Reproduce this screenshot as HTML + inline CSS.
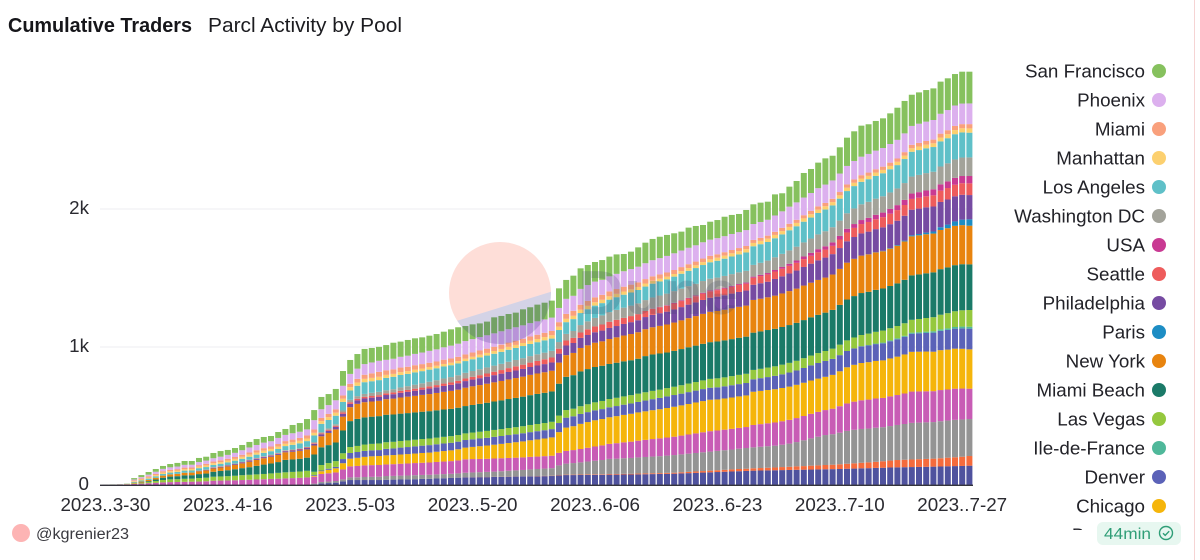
<!DOCTYPE html>
<html lang="en">
<head>
<meta charset="utf-8">
<title>Cumulative Traders - Parcl Activity by Pool</title>
<style>
html,body{margin:0;padding:0;background:#fff;width:1200px;height:560px;overflow:hidden}
svg{display:block;font-family:"Liberation Sans",sans-serif}
</style>
</head>
<body>
<svg id="chart" xmlns="http://www.w3.org/2000/svg" width="1200" height="560" viewBox="0 0 1200 560">
  <defs>
    <clipPath id="logo-circle"><circle cx="500" cy="293" r="51"/></clipPath>
    <clipPath id="legend-clip"><rect x="1000" y="55" width="190" height="475"/></clipPath>
  </defs>
  <rect width="1200" height="560" fill="#fff"/>
  <text x="8" y="32" font-size="20" font-weight="700" fill="#16161a" textLength="184" lengthAdjust="spacingAndGlyphs">Cumulative Traders</text>
  <text x="208" y="32" font-size="20" fill="#1c1c20" textLength="194" lengthAdjust="spacingAndGlyphs">Parcl Activity by Pool</text>
  <g id="grid"></g>
  <g id="bars"></g>
  <rect x="100" y="484.6" width="873" height="1.4" fill="#34343c"/>
  <g id="xticks"></g>
  <g id="yticks"></g>
  <g id="legend" clip-path="url(#legend-clip)"></g>
  <g>
    <g clip-path="url(#logo-circle)">
      <polygon points="440,240 560,240 560,289 440,326" fill="#f9593a" opacity="0.2"/>
      <polygon points="440,326 560,289 560,350 440,350" fill="#2a2280" opacity="0.2"/>
    </g>
    <text x="578" y="314" font-size="62" font-weight="700" fill="#3a4468" opacity="0.2" textLength="160" lengthAdjust="spacingAndGlyphs">Dune</text>
  </g>
  <circle cx="21" cy="533" r="9" fill="#fdb4b4"/>
  <text x="36" y="539" font-size="15.5" fill="#3a3a40" textLength="93" lengthAdjust="spacingAndGlyphs">@kgrenier23</text>
  <rect x="1097" y="522" width="84" height="23" rx="6" fill="#e7f7f0"/>
  <text x="1104" y="539" font-size="16" fill="#2f9e77" textLength="47" lengthAdjust="spacingAndGlyphs">44min</text>
  <g fill="none" stroke="#2f9e77" stroke-width="1.4">
    <circle cx="1166" cy="533" r="6.5"/>
    <path d="M1163 533.2l2.2 2.2 4-4.2"/>
  </g>
  <rect x="1194" y="0" width="1" height="560" fill="#f6d4d4"/>
</svg>
<script>
// Value per bar, March 30 onward (one per day, 121 bars).
const seriesIndigo = [0,0,0,0,0,0,0,0,0,0,0,0,0,0,0,0,0,0,0,0,0,0,0,0,0,0,0,0,0,5,
12,14,17,26,36,36,36,36,36,38,39,40,41,42,44,45,47,49,51,53,56,56,57,57,58,59,60,61,62,63,
63,64,65,69,72,72,73,73,74,74,75,75,76,76,77,78,79,80,81,82,84,86,88,90,92,94,96,98,100,102,
104,105,106,107,108,109,110,111,112,113,114,115,116,118,119,121,122,124,125,127,128,129,130,131,132,133,134,136,137,138,140];
const seriesCoral = [0,0,0,0,0,0,0,0,0,0,0,0,0,0,0,0,0,0,0,0,0,0,0,0,0,0,0,0,0,0,
0,0,0,0,0,0,0,0,0,0,0,0,0,0,0,0,0,0,0,0,1,1,1,1,1,1,1,1,1,1,
2,2,2,3,3,3,3,4,4,4,5,5,5,5,6,6,6,6,7,7,8,9,10,11,12,13,14,15,16,16,
17,18,19,20,22,23,25,26,28,29,31,32,34,36,38,40,42,44,47,50,53,54,55,56,57,58,60,62,64,67,70];
const seriesGray = [0,0,0,0,0,0,0,0,0,0,0,0,0,0,0,0,0,0,0,0,0,0,0,0,0,0,0,0,0,5,
10,11,12,15,19,20,22,23,24,27,27,28,28,29,29,29,30,30,30,31,32,34,35,37,38,40,42,44,46,49,
51,53,55,70,80,84,88,93,98,103,109,111,113,115,117,119,121,123,125,128,130,132,134,136,138,140,142,144,147,150,
152,154,156,158,162,168,176,187,198,208,217,221,229,238,243,245,245,247,247,250,254,259,265,265,265,265,268,269,271,270,268];
const seriesBrooklyn = [1,2,3,4,8,10,13,16,19,21,22,23,24,25,27,31,32,33,34,36,38,40,42,44,46,48,50,52,55,50,
58,60,62,72,80,82,84,85,85,84,85,86,87,88,88,89,90,91,92,94,97,97,96,95,95,94,93,92,91,91,
90,90,90,91,92,94,97,100,103,106,109,112,115,118,121,124,127,129,131,133,136,139,142,145,148,148,149,150,151,152,
162,164,166,168,170,172,174,176,178,180,181,185,192,199,204,208,210,212,212,215,217,221,227,226,225,224,226,225,226,224,220];
const seriesChicago = [0,0,0,0,0,0,0,0,0,0,0,0,0,0,0,0,0,0,0,0,0,0,0,0,0,0,0,0,0,5,
20,25,30,45,56,59,62,64,65,66,66,67,68,69,71,72,74,76,78,81,85,88,92,96,100,104,108,112,116,120,
124,128,133,150,169,173,182,186,190,191,193,196,199,202,205,207,209,211,214,217,219,221,224,226,228,225,226,227,228,229,
241,241,241,241,241,241,241,241,241,241,241,245,253,262,267,270,271,272,272,275,278,283,288,288,288,286,289,289,290,288,285];
const seriesDenver = [0,0,0,0,0,0,0,0,0,0,0,0,0,0,0,0,0,0,0,0,0,0,0,0,0,0,0,0,0,6,
5,8,10,30,41,42,43,43,43,47,48,50,51,52,53,54,54,55,55,55,55,55,56,56,57,57,58,58,59,59,
60,60,60,66,72,72,72,72,72,72,72,73,74,75,76,78,80,82,84,85,85,86,86,87,87,88,88,89,89,90,
90,92,94,97,99,102,104,107,110,113,115,116,117,118,119,120,121,122,124,125,126,128,131,133,135,138,140,143,145,148,150];
const seriesIleDeFrance = [0,0,0,0,0,0,0,0,0,0,0,0,0,0,0,0,0,0,0,0,0,0,0,0,0,0,0,0,0,0,
0,0,0,0,0,0,0,0,0,0,0,0,0,0,0,0,0,0,0,0,0,0,0,0,0,0,0,0,0,0,
0,0,0,0,0,0,0,0,0,0,0,0,0,0,0,0,0,0,0,0,0,0,0,0,0,0,0,0,0,0,
0,0,0,0,0,0,0,0,0,0,0,0,0,0,0,2,3,4,5,6,7,7,8,8,9,10,11,11,12,13,14];
const seriesLasVegas = [0,0,0,1,4,6,9,13,17,20,20,22,22,25,26,29,30,31,33,35,36,37,38,40,42,44,45,46,48,25,
40,41,42,42,43,44,46,47,48,48,48,48,48,48,48,48,48,48,48,48,48,49,49,50,50,50,51,51,51,52,
52,52,53,54,55,55,56,57,58,59,60,60,60,60,60,60,60,60,60,60,61,62,62,63,64,65,65,66,67,67,
68,68,69,69,70,70,70,71,71,72,72,74,76,77,79,81,83,85,87,88,89,91,93,96,99,102,106,110,114,118,121];
const seriesMiamiBeach = [0,0,0,0,0,2,6,11,17,20,22,25,25,29,30,36,40,43,47,51,55,62,68,72,78,90,90,92,95,125,
128,130,135,165,188,196,197,197,198,199,198,198,198,198,198,198,198,198,198,198,198,200,202,204,206,208,210,212,214,216,
218,219,220,231,241,243,252,255,256,255,254,254,254,253,253,262,264,262,258,260,262,263,264,265,266,267,268,268,269,269,
270,271,272,272,273,274,275,276,277,277,278,281,288,296,300,304,303,304,305,306,309,315,322,323,324,325,330,332,334,334,331];
const seriesNewYork = [0,0,0,0,5,7,9,12,15,16,17,19,19,21,22,24,25,28,31,35,40,43,46,49,52,55,56,58,60,65,
80,88,95,100,101,109,110,110,111,113,115,117,119,120,122,124,126,128,130,131,133,135,136,138,139,141,142,144,145,147,
148,149,150,153,157,161,170,172,176,177,181,184,187,190,192,195,197,200,203,205,208,211,214,217,220,221,222,223,224,225,
237,237,237,240,243,246,248,250,251,253,254,256,261,267,270,271,271,271,270,271,273,278,283,283,283,281,284,284,285,283,280];
const seriesParis = [0,0,0,0,0,0,0,0,0,0,0,0,0,0,0,0,0,0,0,0,0,0,0,0,0,0,0,0,0,0,
0,0,0,0,0,0,0,0,0,0,0,0,0,0,0,0,0,0,0,0,0,0,0,0,0,0,0,0,0,0,
0,0,0,0,0,0,0,0,0,0,0,0,0,0,0,0,0,0,0,0,0,0,0,0,0,0,0,0,0,0,
0,0,0,0,0,0,0,0,0,0,0,0,0,0,0,0,1,2,3,4,5,6,8,10,12,15,20,26,32,40,46];
const seriesPhiladelphia = [0,0,0,0,0,0,0,0,0,0,0,0,0,2,3,5,5,6,6,7,8,8,8,8,8,8,9,9,10,12,
15,16,18,21,24,25,27,28,29,30,32,34,35,37,38,40,41,43,44,46,48,49,50,51,52,53,54,55,56,57,
58,59,60,65,70,72,73,75,76,78,80,82,84,86,87,88,90,92,93,95,96,98,99,101,102,104,105,107,108,109,
110,112,113,121,124,128,131,135,138,142,145,148,151,155,158,161,164,167,170,173,176,180,185,184,183,181,183,182,182,180,176];
const seriesSeattle = [0,0,0,0,0,0,0,0,0,0,0,0,0,1,2,2,2,2,2,2,3,3,3,3,3,3,3,4,4,5,
6,7,8,10,12,12,12,12,12,12,13,14,14,15,15,16,16,17,17,18,19,20,22,23,25,26,28,30,31,32,
33,35,36,36,36,37,39,41,42,44,45,45,44,44,44,44,43,43,43,43,44,44,45,46,47,47,48,49,50,50,
51,52,53,54,55,55,56,57,57,58,58,60,62,64,66,68,70,72,74,76,77,78,78,79,80,81,82,83,84,84,85];
const seriesUSA = [0,0,0,0,0,0,0,0,0,0,0,0,0,0,0,0,0,0,0,0,0,0,0,0,0,0,0,0,0,0,
0,0,0,0,0,0,0,0,0,0,0,0,0,0,0,0,0,0,0,0,0,0,0,0,0,0,0,0,0,0,
0,0,0,0,0,0,0,0,0,0,0,0,0,0,0,0,2,3,4,5,5,5,5,6,6,6,7,7,7,8,
8,9,10,11,13,15,17,19,21,23,24,25,26,27,28,29,30,32,33,35,36,37,39,40,42,44,46,48,50,52,53];
const seriesWashingtonDC = [0,0,0,0,0,0,0,0,0,0,0,0,0,2,2,2,2,2,3,3,3,3,3,4,4,4,5,5,5,8,
9,10,11,14,17,19,21,23,24,22,23,25,27,29,31,33,35,37,39,40,41,42,43,44,44,45,46,46,47,47,
48,48,48,48,48,50,54,58,62,66,70,72,74,76,78,79,81,82,84,85,85,85,85,85,85,85,85,85,85,85,
85,87,90,92,95,97,100,102,104,107,109,110,111,112,113,114,116,117,118,119,121,122,123,125,126,127,129,131,133,134,135];
const seriesLosAngeles = [0,0,0,0,6,8,9,11,12,13,14,15,15,17,18,17,18,19,20,21,22,24,25,25,28,30,33,36,41,48,
60,61,62,62,68,75,85,84,85,90,90,90,89,89,88,88,87,87,86,86,85,85,86,86,86,87,87,87,88,88,
88,89,89,87,85,86,87,88,89,89,90,92,94,95,97,98,100,102,103,105,108,111,114,116,119,122,125,128,130,133,
135,135,135,138,141,146,148,150,152,155,157,158,159,161,162,163,164,165,167,168,169,174,180,180,180,179,182,182,183,182,179];
const seriesManhattan = [0,0,0,1,5,7,8,9,10,10,10,11,11,11,12,12,12,13,13,14,15,15,16,16,17,17,18,18,19,19,
20,21,22,23,24,24,24,24,24,22,21,21,20,20,19,19,18,18,18,17,17,18,19,19,20,21,21,22,22,23,
23,24,24,24,24,24,24,24,24,24,24,24,23,23,22,22,21,20,20,19,19,20,20,21,21,22,22,23,23,24,
24,24,24,24,24,24,24,24,24,24,24,24,24,24,24,24,24,24,24,24,24,25,25,26,26,27,28,29,30,30,31];
const seriesMiami = [0,0,1,1,5,7,8,9,10,10,10,11,11,11,12,12,13,13,14,15,16,17,18,18,19,19,20,21,22,24,
23,23,24,24,24,26,30,33,36,33,33,33,32,32,32,31,31,31,31,31,31,31,31,31,31,31,31,31,31,31,
31,31,31,33,36,36,36,36,36,36,36,35,35,34,33,32,32,31,30,29,29,28,27,26,26,25,25,24,23,23,
22,22,22,23,23,23,23,23,24,24,24,24,24,24,24,24,24,24,24,24,24,25,25,26,27,27,28,29,30,30,31];
const seriesPhoenix = [0,0,1,1,7,10,13,15,17,18,19,20,20,22,23,24,26,28,30,33,36,38,40,38,44,45,46,45,44,68,
63,64,66,70,72,74,77,79,80,76,77,78,80,82,84,86,88,90,93,95,97,97,97,97,97,97,97,97,97,97,
97,97,97,103,109,109,115,115,114,109,109,110,112,113,114,115,117,118,120,121,120,119,118,118,117,117,116,116,115,115,
115,115,115,118,120,124,126,128,130,132,133,133,134,134,134,134,135,135,135,135,135,136,137,139,140,142,144,146,148,149,150];
const seriesSanFrancisco = [1,2,1,2,10,15,19,20,21,24,26,28,27,30,28,38,41,36,35,38,40,43,41,38,43,43,60,63,75,73,
89,80,82,107,101,106,110,105,101,107,116,110,114,113,110,110,111,113,118,119,109,107,99,99,116,111,110,106,116,115,
121,121,123,142,137,146,149,145,142,143,143,141,125,126,140,149,154,155,152,145,137,146,140,125,130,131,141,138,132,146,
143,140,131,153,131,145,155,178,174,185,190,179,190,205,215,225,215,215,215,222,233,235,226,227,229,229,233,230,228,231,230];

const stackOrder = ['Indigo','Coral','Gray','Brooklyn','Chicago','Denver','Ile-de-France','Las Vegas','Miami Beach','New York','Paris','Philadelphia','Seattle','USA','Washington DC','Los Angeles','Manhattan','Miami','Phoenix','San Francisco'];
const stackValues = [seriesIndigo,seriesCoral,seriesGray,seriesBrooklyn,seriesChicago,seriesDenver,seriesIleDeFrance,seriesLasVegas,seriesMiamiBeach,seriesNewYork,seriesParis,seriesPhiladelphia,seriesSeattle,seriesUSA,seriesWashingtonDC,seriesLosAngeles,seriesManhattan,seriesMiami,seriesPhoenix,seriesSanFrancisco];
const stackColors = ['#4f529e','#f56b3c','#949494','#c85cb5','#f5b50b','#5b62b8','#4fb89a','#95c83e','#1b7a68','#e8840f','#1d8dc4','#764ba2','#ee5c5c','#c93a93','#a3a39a','#5fc0c8','#fcd06f','#f9a07c','#dcb0ee','#86c15e'];
const legendNames = ['San Francisco','Phoenix','Miami','Manhattan','Los Angeles','Washington DC','USA','Seattle','Philadelphia','Paris','New York','Miami Beach','Las Vegas','Ile-de-France','Denver','Chicago','Brooklyn'];
const xTickLabels = ['2023..3-30','2023..4-16','2023..5-03','2023..5-20','2023..6-06','2023..6-23','2023..7-10','2023..7-27'];
const xTickIndexes = [0,17,34,51,68,85,102,119];
const yTickValues = [0,1000,2000];
const yTickLabels = ['0','1k','2k'];

const NS = 'http://www.w3.org/2000/svg';
const barCount = seriesSanFrancisco.length;
function xScale(i){ return 105.4 + 7.2 * i; }
function yScale(v){ return 485 - v * 0.138; }
const barWidth = 6;

function make(tag, attrs, parent){
  const el = document.createElementNS(NS, tag);
  for (const k in attrs) el.setAttribute(k, attrs[k]);
  parent.appendChild(el);
  return el;
}

const gridG = document.getElementById('grid');
const yG = document.getElementById('yticks');
yTickValues.forEach(function(v, k){
  if (v > 0) {
    const line = make('line', {x1:100, x2:973, y1:yScale(v), y2:yScale(v), stroke:'#eeeef0', 'stroke-width':1}, gridG);
    
    
  }
  const t = make('text', {x:89, y:yScale(v) + 5, 'text-anchor':'end', 'font-size':18.8, fill:'#2a2a30'}, yG);
  
  
  t.textContent = yTickLabels[k];
});

const xG = document.getElementById('xticks');
xTickLabels.forEach(function(label, k){
  const t = make('text', {x:xScale(xTickIndexes[k]), y:511, 'text-anchor':'middle', 'font-size':18.8, fill:'#2a2a30'}, xG);
  
  
  t.textContent = label;
});

const barsG = document.getElementById('bars');
for (let i = 0; i < barCount; i++) {
  let running = 0;
  const col = make('g', {}, barsG);
  
  
  for (let s = 0; s < stackValues.length; s++) {
    const v = stackValues[s][i] || 0;
    if (v <= 0) continue;
    const top = yScale(running + v);
    const bottom = yScale(running);
    const seg = make('rect', {x:xScale(i) - barWidth / 2, y:top, width:barWidth, height:bottom - top, fill:stackColors[s]}, col);
    
    
    running += v;
  }
}

const legendG = document.getElementById('legend');
legendNames.forEach(function(name, k){
  const y = 71 + 29 * k;
  const entry = make('g', {}, legendG);
  
  
  const t = make('text', {x:1145, y:y + 6.5, 'text-anchor':'end', 'font-size':18.8, fill:'#222228'}, entry);
  
  
  t.textContent = name;
  const dot = make('circle', {cx:1159, cy:y, r:7, fill:stackColors[stackOrder.indexOf(name)]}, entry);
  
  
});
</script>
</body>
</html>
